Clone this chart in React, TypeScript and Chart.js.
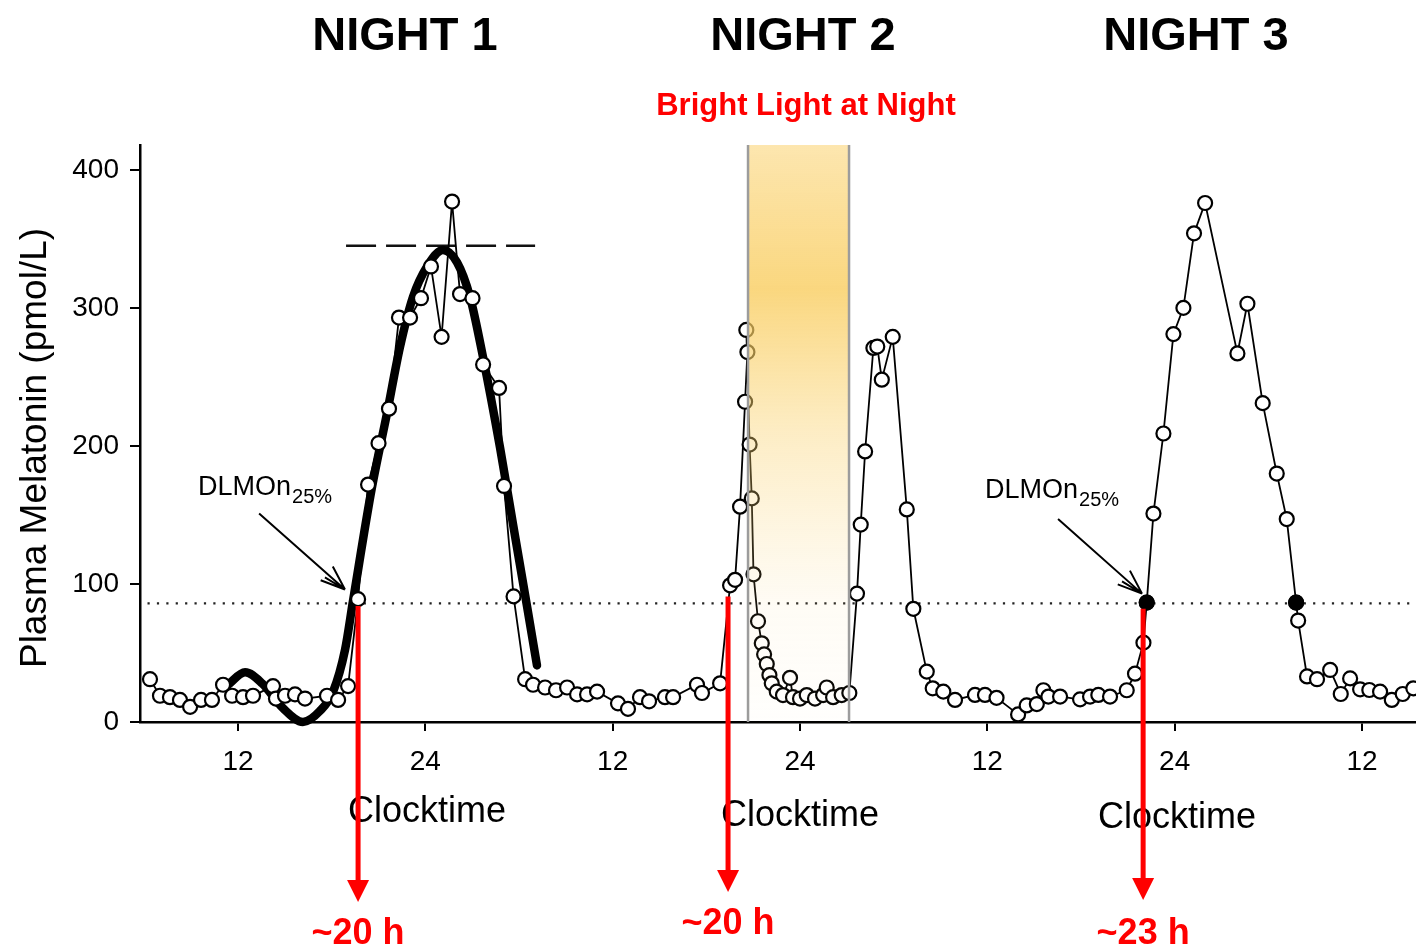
import React, { useEffect, useRef } from "react";
import { Chart, registerables } from "chart.js";

Chart.register(...registerables);

// ---- axis ticks ----
const xTickHours = [12, 24, 36, 48, 60, 72, 84];
const xTickLabels = ["12", "24", "12", "24", "12", "24", "12"];
const yTickValues = [0, 100, 200, 300, 400];

// ---- plasma melatonin samples (hours since start of day 1, pmol/L) ----
const night1Hours = [6.36, 7.0, 7.64, 8.28, 8.93, 9.63, 10.33, 11.04, 11.62, 12.32, 12.96, 14.24, 14.43, 15.01, 15.65, 16.29, 17.7, 18.41, 19.05, 19.69, 20.33, 21.0, 21.67, 22.31, 23.02, 23.72, 24.36, 25.04, 25.71, 26.22, 27.02, 27.7, 28.72, 29.04, 29.65, 30.39, 30.9, 31.67, 32.37, 33.08, 33.72, 34.36, 35.0, 36.34, 36.98, 37.75, 38.33, 39.35, 39.87, 41.4, 41.72, 42.88];
const night1Values = [31, 19, 18, 16, 11, 16, 16, 27, 19, 18, 19, 26, 17, 19, 20, 17, 19, 16, 26, 89, 172, 202, 227, 293, 293, 307, 330, 279, 377, 310, 307, 259, 242, 171, 91, 31, 27, 25, 23, 25, 20, 20, 22, 13.5, 9.5, 18, 15, 18, 18, 27, 21, 28];

const night2Hours = [43.52, 43.84, 44.16, 44.48, 44.63, 44.56, 44.77, 44.91, 45.02, 45.31, 45.55, 45.7, 45.87, 46.04, 46.19, 46.51, 46.91, 47.36, 47.55, 48.0, 48.43, 48.96, 49.48, 49.71, 50.12, 50.67, 51.16, 51.65, 51.89, 52.17, 52.7, 52.95, 53.24, 53.94, 54.84, 55.26, 56.12, 56.5, 57.18, 57.93, 59.21, 59.85, 60.59, 61.97, 62.52, 63.17, 63.59, 63.91, 64.66, 65.94, 66.58, 67.11, 67.86, 68.93, 69.46];
const night2Values = [99, 103, 156, 232, 268, 284, 201, 162, 107, 73, 57, 49, 42, 34, 28, 22, 19.5, 32, 18, 17, 19.5, 17, 19.5, 25, 18, 19.5, 21, 93, 143, 196, 271, 272, 248, 279, 154, 82, 36.5, 24.4, 22, 16, 19.6, 19.6, 17.5, 5.5, 12, 13, 23, 18.4, 18.4, 16.4, 18.4, 19.6, 18.4, 23, 35];

const night3Hours = [70.0, 70.21, 70.64, 71.28, 71.92, 72.56, 73.24, 73.95, 76.02, 76.66, 77.64, 78.54, 79.18, 79.78, 79.91, 80.48, 81.12, 81.96, 82.64, 83.24, 83.88, 84.47, 85.16, 85.91, 86.61, 87.29];
const night3Values = [57.5, 86.5, 151, 209, 281, 300, 354, 376, 267, 303, 231, 180, 147, 86.5, 73.5, 33, 31, 37.7, 20.3, 31.6, 23.7, 23.2, 22, 16, 20.3, 24.4];

// ---- fitted curve night 1 ----
const fitHours = [11.36, 12.45, 13.54, 14.88, 16.16, 17.25, 18.09, 18.85, 19.37, 20.58, 21.55, 22.38, 23.21, 24.11, 25.13, 26.03, 26.86, 27.7, 28.78, 29.62, 30.51, 31.15];
const fitValues = [27, 36, 28, 10, 0, 8, 22, 52, 88, 170, 224, 272, 308, 330, 342, 333, 308, 264, 199, 143, 84, 41];

// ---- reference lines / markers ----
const dlmoThreshold = 86;
const thresholdHours = [6.2, 87.46];
const peakLevel = 345;
const peakLineHours = [18.92, 31.03];
const dlmoMarkerHours = [70.21, 79.78];
const dlmoMarkerValues = [86.5, 86.5];
const lightStartHour = 44.67;
const lightEndHour = 51.14;

// ---- annotations ----
const nightTitles = ["NIGHT 1", "NIGHT 2", "NIGHT 3"];
const onsetArrowHours = [19.69, 43.39, 69.98];
const onsetArrowTopValues = [84, 91, 82];
const onsetLabels = ["~20 h", "~20 h", "~23 h"];
const dlmoLabelHours = [9.44, 59.85];
const dlmoArrowFrom = [[13.35, 151], [64.53, 147]];
const dlmoArrowTo = [[18.85, 96], [69.91, 93]];

const FONT = "'Liberation Sans', Arial, Helvetica, sans-serif";

function drawArrowOpen(ctx: CanvasRenderingContext2D, x1: number, y1: number, x2: number, y2: number) {
  const ang = Math.atan2(y2 - y1, x2 - x1);
  ctx.beginPath();
  ctx.moveTo(x1, y1);
  ctx.lineTo(x2, y2);
  const len = 26;
  const spread = 0.36;
  ctx.moveTo(x2, y2);
  ctx.lineTo(x2 - len * Math.cos(ang - spread), y2 - len * Math.sin(ang - spread));
  ctx.moveTo(x2, y2);
  ctx.lineTo(x2 - len * Math.cos(ang + spread), y2 - len * Math.sin(ang + spread));
  ctx.moveTo(x2, y2);
  ctx.lineTo(x2 - len * 0.9 * Math.cos(ang - 0.18), y2 - len * 0.9 * Math.sin(ang - 0.18));
  ctx.stroke();
}

const annotationPlugin = {
  id: "melatoninAnnotations",
  afterDatasetsDraw(chart: any) {
    const { ctx, chartArea, scales } = chart;
    const xs = scales.x;
    const l = xs.getPixelForValue(lightStartHour);
    const r = xs.getPixelForValue(lightEndHour);
    const top = chartArea.top;
    const bottom = chartArea.bottom;
    ctx.save();
    const g = ctx.createLinearGradient(0, top, 0, bottom);
    g.addColorStop(0, "rgba(250,205,95,0.5)");
    g.addColorStop(0.25, "rgba(249,205,95,0.8)");
    g.addColorStop(0.5, "rgba(250,210,110,0.4)");
    g.addColorStop(0.8, "rgba(250,215,130,0.08)");
    g.addColorStop(1, "rgba(250,215,130,0.02)");
    ctx.fillStyle = g;
    ctx.fillRect(l, top, r - l, bottom - top - 1.5);
    ctx.strokeStyle = "#9c9c9c";
    ctx.lineWidth = 2.5;
    [l, r].forEach((px) => {
      ctx.beginPath();
      ctx.moveTo(px, top);
      ctx.lineTo(px, bottom);
      ctx.stroke();
    });
    ctx.restore();
  },
  afterDraw(chart: any) {
    const { ctx, scales } = chart;
    const xs = scales.x;
    const ys = scales.y;
    ctx.save();

    // Night titles
    ctx.fillStyle = "#000";
    ctx.font = `bold 47px ${FONT}`;
    ctx.textAlign = "center";
    ctx.textBaseline = "middle";
    const titleX = [405, 803, 1196];
    nightTitles.forEach((t, i) => ctx.fillText(t, titleX[i], 37));

    // Bright light label
    ctx.fillStyle = "#ff0000";
    ctx.font = `bold 31px ${FONT}`;
    ctx.fillText("Bright Light at Night", 806, 106);

    // Clocktime labels
    ctx.fillStyle = "#000";
    ctx.font = `36px ${FONT}`;
    const ctX = [427, 800, 1177];
    const ctY = [812, 816, 818];
    ctX.forEach((x, i) => ctx.fillText("Clocktime", x, ctY[i]));

    // y axis title
    ctx.save();
    ctx.translate(36, 448);
    ctx.rotate(-Math.PI / 2);
    ctx.font = `37px ${FONT}`;
    ctx.fillText("Plasma Melatonin (pmol/L)", 0, 0);
    ctx.restore();

    // DLMO labels + arrows
    ctx.textAlign = "left";
    ctx.textBaseline = "alphabetic";
    const labelBase = [495, 498];
    dlmoLabelHours.forEach((h, i) => {
      const x = xs.getPixelForValue(h);
      ctx.font = `27px ${FONT}`;
      ctx.fillText("DLMOn", x, labelBase[i]);
      const w = ctx.measureText("DLMOn").width;
      ctx.font = `20px ${FONT}`;
      ctx.fillText("25%", x + w + 1, labelBase[i] + 8);
    });
    ctx.strokeStyle = "#000";
    ctx.lineWidth = 2;
    dlmoArrowFrom.forEach((f, i) => {
      const t = dlmoArrowTo[i];
      drawArrowOpen(ctx, xs.getPixelForValue(f[0]), ys.getPixelForValue(f[1]), xs.getPixelForValue(t[0]), ys.getPixelForValue(t[1]));
    });

    // Red onset arrows
    const tips = [902, 892, 900];
    const labelY = [944, 934, 944];
    onsetArrowHours.forEach((h, i) => {
      const x = xs.getPixelForValue(h);
      const y0 = ys.getPixelForValue(onsetArrowTopValues[i]);
      const tip = tips[i];
      ctx.strokeStyle = "#ff0000";
      ctx.fillStyle = "#ff0000";
      ctx.lineWidth = 5;
      ctx.beginPath();
      ctx.moveTo(x, y0);
      ctx.lineTo(x, tip - 18);
      ctx.stroke();
      ctx.beginPath();
      ctx.moveTo(x - 11, tip - 22);
      ctx.lineTo(x + 11, tip - 22);
      ctx.lineTo(x, tip);
      ctx.closePath();
      ctx.fill();
      ctx.font = `bold 36px ${FONT}`;
      ctx.textAlign = "center";
      ctx.fillText(onsetLabels[i], x, labelY[i]);
    });
    ctx.restore();
  },
};

export default function App() {
  const ref = useRef<HTMLCanvasElement | null>(null);
  useEffect(() => {
    if (!ref.current) return;
    const raw = [
      ...night1Hours.map((h, i) => ({ x: h, y: night1Values[i] })),
      ...night2Hours.map((h, i) => ({ x: h, y: night2Values[i] })),
      ...night3Hours.map((h, i) => ({ x: h, y: night3Values[i] })),
    ];
    const fit = fitHours.map((h, i) => ({ x: h, y: fitValues[i] }));
    const markers = dlmoMarkerHours.map((h, i) => ({ x: h, y: dlmoMarkerValues[i] }));
    const threshold = thresholdHours.map((h) => ({ x: h, y: dlmoThreshold }));
    const peak = peakLineHours.map((h) => ({ x: h, y: peakLevel }));
    const tickFont = { family: FONT, size: 28 };

    const chart = new Chart(ref.current, {
      type: "line",
      data: {
        datasets: [
          {
            label: "DLMOn",
            data: markers,
            showLine: false,
            pointRadius: 7,
            pointBorderWidth: 2,
            pointBackgroundColor: "#000",
            pointBorderColor: "#000",
            order: 0,
            clip: false,
          },
          {
            label: "Plasma melatonin",
            data: raw,
            borderColor: "#000",
            borderWidth: 1.8,
            pointRadius: 7,
            pointBorderWidth: 2.2,
            pointBackgroundColor: "#fff",
            pointBorderColor: "#000",
            order: 1,
            clip: false,
          },
          {
            label: "Fit",
            data: fit,
            borderColor: "#000",
            borderWidth: 8.5,
            pointRadius: 0,
            cubicInterpolationMode: "monotone",
            borderCapStyle: "round",
            order: 2,
            clip: false,
          },
          {
            label: "Peak",
            data: peak,
            borderColor: "#111",
            borderWidth: 2.5,
            borderDash: [30, 10],
            pointRadius: 0,
            order: 3,
          },
          {
            label: "Threshold",
            data: threshold,
            borderColor: "#222",
            borderWidth: 2.2,
            borderDash: [2.2, 7.2],
            pointRadius: 0,
            order: 4,
          },
        ],
      },
      options: {
        animation: false,
        responsive: false,
        devicePixelRatio: 1,
        events: [],
        layout: { autoPadding: false, padding: { top: 145, right: 0, bottom: 0, left: 0 } },
        plugins: { legend: { display: false }, tooltip: { enabled: false } },
        scales: {
          x: {
            type: "linear",
            min: 5.72,
            max: 87.46,
            afterFit(s: any) {
              s.height = 228;
              s.paddingLeft = 0;
              s.paddingRight = 0;
            },
            afterBuildTicks(s: any) {
              s.ticks = xTickHours.map((v) => ({ value: v }));
            },
            ticks: {
              callback: (_v: any, i: number) => xTickLabels[i],
              font: tickFont,
              color: "#000",
              padding: 14,
              maxRotation: 0,
              autoSkip: false,
            },
            grid: { drawOnChartArea: false, drawTicks: true, tickLength: 9, color: "#000", lineWidth: 2 },
            border: { display: true, color: "#000", width: 2.5 },
          },
          y: {
            type: "linear",
            min: 0,
            max: 418,
            afterFit(s: any) {
              s.width = 140;
              s.paddingTop = 0;
              s.paddingBottom = 0;
            },
            afterBuildTicks(s: any) {
              s.ticks = yTickValues.map((v) => ({ value: v }));
            },
            ticks: { font: tickFont, color: "#000", padding: 11 },
            grid: { drawOnChartArea: false, drawTicks: true, tickLength: 10, color: "#000", lineWidth: 2 },
            border: { display: true, color: "#000", width: 2.5 },
          },
        },
      },
      plugins: [annotationPlugin],
    } as any);
    return () => chart.destroy();
  }, []);

  return (
    <div style={{ position: "absolute", left: 0, top: 0, width: 1416, height: 950, background: "#fff" }}>
      <canvas ref={ref} width={1416} height={950} style={{ display: "block", width: 1416, height: 950 }} />
    </div>
  );
}
